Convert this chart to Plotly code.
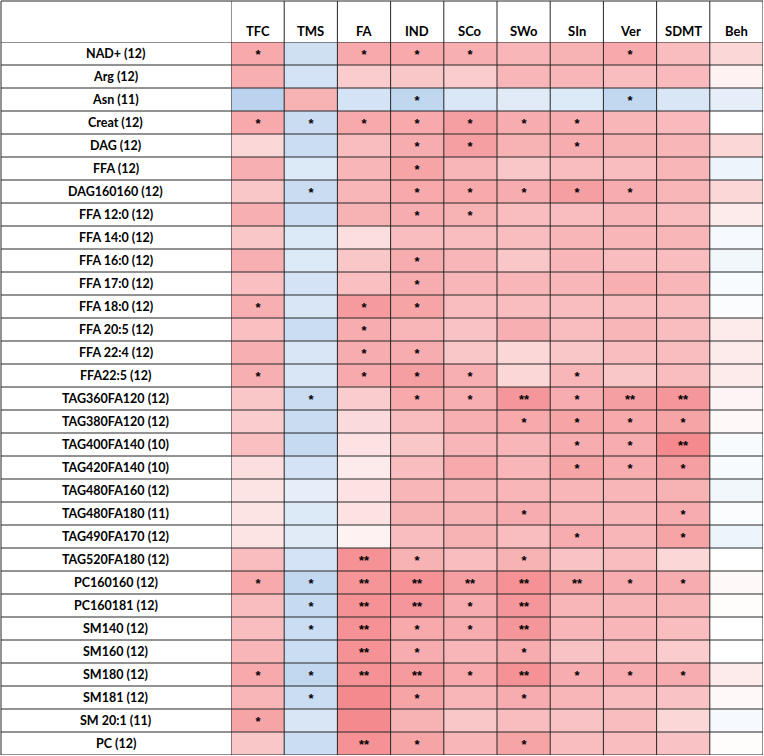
import plotly.graph_objects as go

# columns and rows of the table
columns = ["TFC", "TMS", "FA", "IND", "SCo", "SWo", "SIn", "Ver", "SDMT", "Beh"]
rows = ["NAD+ (12)", "Arg (12)", "Asn (11)", "Creat (12)", "DAG (12)", "FFA (12)",
        "DAG160160 (12)", "FFA 12:0 (12)", "FFA 14:0 (12)", "FFA 16:0 (12)",
        "FFA 17:0 (12)", "FFA 18:0 (12)", "FFA 20:5 (12)", "FFA 22:4 (12)",
        "FFA22:5 (12)", "TAG360FA120 (12)", "TAG380FA120 (12)", "TAG400FA140 (10)",
        "TAG420FA140 (10)", "TAG480FA160 (12)", "TAG480FA180 (11)", "TAG490FA170 (12)",
        "TAG520FA180 (12)", "PC160160 (12)", "PC160181 (12)", "SM140 (12)",
        "SM160 (12)", "SM180 (12)", "SM181 (12)", "SM 20:1 (11)", "PC (12)"]

# estimated correlation strengths (red positive, blue negative)
values = [
    [0.65, -0.55, 0.65, 0.65, 0.60, 0.55, 0.58, 0.65, 0.50, 0.30],
    [0.60, -0.50, 0.38, 0.42, 0.38, 0.55, 0.55, 0.50, 0.52, 0.10],
    [-0.78, 0.58, -0.50, -0.72, -0.42, -0.35, -0.40, -0.70, -0.45, -0.30],
    [0.65, -0.62, 0.65, 0.65, 0.72, 0.62, 0.62, 0.55, 0.52, 0.00],
    [0.30, -0.60, 0.50, 0.62, 0.72, 0.58, 0.62, 0.58, 0.55, 0.30],
    [0.60, -0.40, 0.55, 0.68, 0.55, 0.42, 0.50, 0.50, 0.55, -0.20],
    [0.42, -0.62, 0.55, 0.65, 0.65, 0.62, 0.72, 0.62, 0.55, 0.30],
    [0.60, -0.60, 0.58, 0.62, 0.58, 0.50, 0.50, 0.55, 0.50, 0.15],
    [0.42, -0.40, 0.25, 0.50, 0.50, 0.50, 0.55, 0.55, 0.55, -0.10],
    [0.60, -0.40, 0.42, 0.62, 0.55, 0.42, 0.55, 0.50, 0.50, -0.15],
    [0.48, -0.50, 0.48, 0.62, 0.55, 0.55, 0.55, 0.60, 0.55, -0.08],
    [0.60, -0.45, 0.75, 0.68, 0.50, 0.50, 0.50, 0.50, 0.50, -0.05],
    [0.48, -0.60, 0.62, 0.55, 0.45, 0.60, 0.50, 0.55, 0.50, 0.15],
    [0.60, -0.45, 0.62, 0.62, 0.42, 0.30, 0.42, 0.50, 0.50, 0.15],
    [0.60, -0.45, 0.65, 0.72, 0.60, 0.30, 0.55, 0.42, 0.50, 0.15],
    [0.42, -0.62, 0.38, 0.65, 0.60, 0.78, 0.62, 0.72, 0.78, 0.08],
    [0.38, -0.62, 0.28, 0.50, 0.60, 0.65, 0.68, 0.65, 0.68, 0.05],
    [0.48, -0.65, 0.22, 0.42, 0.55, 0.55, 0.62, 0.62, 0.88, -0.08],
    [0.25, -0.50, 0.15, 0.50, 0.65, 0.55, 0.68, 0.62, 0.72, -0.08],
    [0.20, -0.30, 0.22, 0.55, 0.55, 0.55, 0.55, 0.55, 0.58, -0.15],
    [0.20, -0.40, 0.22, 0.58, 0.58, 0.62, 0.55, 0.55, 0.62, -0.05],
    [0.20, -0.35, 0.10, 0.50, 0.58, 0.50, 0.62, 0.55, 0.68, -0.20],
    [0.50, -0.50, 0.82, 0.58, 0.50, 0.58, 0.45, 0.50, 0.30, 0.00],
    [0.65, -0.70, 0.80, 0.82, 0.72, 0.82, 0.68, 0.62, 0.62, 0.05],
    [0.50, -0.65, 0.82, 0.78, 0.62, 0.78, 0.55, 0.55, 0.55, 0.02],
    [0.50, -0.60, 0.82, 0.65, 0.62, 0.78, 0.55, 0.55, 0.50, 0.00],
    [0.55, -0.60, 0.82, 0.62, 0.55, 0.62, 0.45, 0.50, 0.38, 0.00],
    [0.65, -0.70, 0.82, 0.75, 0.65, 0.82, 0.62, 0.62, 0.62, 0.15],
    [0.55, -0.60, 0.88, 0.68, 0.55, 0.62, 0.55, 0.50, 0.45, 0.05],
    [0.68, -0.45, 0.88, 0.58, 0.42, 0.50, 0.45, 0.50, 0.30, -0.10],
    [0.42, -0.60, 0.82, 0.68, 0.55, 0.68, 0.50, 0.50, 0.45, 0.02],
]

# significance marks
stars = [
    ["*", "", "*", "*", "*", "", "", "*", "", ""],
    ["", "", "", "", "", "", "", "", "", ""],
    ["", "", "", "*", "", "", "", "*", "", ""],
    ["*", "*", "*", "*", "*", "*", "*", "", "", ""],
    ["", "", "", "*", "*", "", "*", "", "", ""],
    ["", "", "", "*", "", "", "", "", "", ""],
    ["", "*", "", "*", "*", "*", "*", "*", "", ""],
    ["", "", "", "*", "*", "", "", "", "", ""],
    ["", "", "", "", "", "", "", "", "", ""],
    ["", "", "", "*", "", "", "", "", "", ""],
    ["", "", "", "*", "", "", "", "", "", ""],
    ["*", "", "*", "*", "", "", "", "", "", ""],
    ["", "", "*", "", "", "", "", "", "", ""],
    ["", "", "*", "*", "", "", "", "", "", ""],
    ["*", "", "*", "*", "*", "", "*", "", "", ""],
    ["", "*", "", "*", "*", "**", "*", "**", "**", ""],
    ["", "", "", "", "", "*", "*", "*", "*", ""],
    ["", "", "", "", "", "", "*", "*", "**", ""],
    ["", "", "", "", "", "", "*", "*", "*", ""],
    ["", "", "", "", "", "", "", "", "", ""],
    ["", "", "", "", "", "*", "", "", "*", ""],
    ["", "", "", "", "", "", "*", "", "*", ""],
    ["", "", "**", "*", "", "*", "", "", "", ""],
    ["*", "*", "**", "**", "**", "**", "**", "*", "*", ""],
    ["", "*", "**", "**", "*", "**", "", "", "", ""],
    ["", "*", "**", "*", "*", "**", "", "", "", ""],
    ["", "", "**", "*", "", "*", "", "", "", ""],
    ["*", "*", "**", "**", "*", "**", "*", "*", "*", ""],
    ["", "*", "", "*", "", "*", "", "", "", ""],
    ["*", "", "", "", "", "", "", "", "", ""],
    ["", "", "**", "*", "", "*", "", "", "", ""],
]

W, H = 764, 756
label_w = 231
header_h = 42
font = "Lato, Roboto, Arial"
line = "#262626"

fig = go.Figure(go.Heatmap(
    z=values, x=list(range(len(columns))), y=list(range(len(rows))),
    text=stars, texttemplate="%{text}",
    textfont=dict(size=13, color="black", family="Liberation Sans, Arial", weight="bold"),
    colorscale=[[0, "#A8C7EA"], [0.5, "#FFFFFF"], [1, "#F27A7E"]],
    zmin=-1, zmax=1, showscale=False, hoverinfo="skip",
))

fig.update_xaxes(domain=[label_w / W, 1 - 1 / W], range=[-0.5, len(columns) - 0.5],
                 visible=False, fixedrange=True)
fig.update_yaxes(domain=[1 / H, 1 - header_h / H], range=[len(rows) - 0.5, -0.5],
                 visible=False, fixedrange=True)

shapes = []
# horizontal grid lines
for i in range(len(rows) + 1):
    shapes.append(dict(type="line", xref="paper", yref="y", x0=1 / W, x1=1 - 1 / W,
                       y0=i - 0.5, y1=i - 0.5, line=dict(color=line, width=1)))
shapes.append(dict(type="line", xref="paper", yref="paper", x0=1 / W, x1=1 - 1 / W,
                   y0=1 - 1 / H, y1=1 - 1 / H, line=dict(color=line, width=1)))
# vertical grid lines
for j in range(len(columns) + 1):
    shapes.append(dict(type="line", xref="x", yref="paper", x0=j - 0.5, x1=j - 0.5,
                       y0=1 / H, y1=1 - 1 / H, line=dict(color=line, width=1)))
shapes.append(dict(type="line", xref="paper", yref="paper", x0=1 / W, x1=1 / W,
                   y0=1 / H, y1=1 - 1 / H, line=dict(color=line, width=1)))

annotations = []
for j, c in enumerate(columns):
    annotations.append(dict(x=j, y=1 - 31 / H, xref="x", yref="paper", text=c,
                            showarrow=False, yanchor="middle",
                            font=dict(size=13, color="black", family=font, weight="bold")))
for i, r in enumerate(rows):
    annotations.append(dict(x=(label_w / 2) / W, y=i, xref="paper", yref="y", text=r,
                            showarrow=False, xanchor="center",
                            font=dict(size=12.5, color="black", family=font, weight="bold")))

fig.update_layout(width=W, height=H, margin=dict(l=0, r=0, t=0, b=0),
                  paper_bgcolor="white", plot_bgcolor="white",
                  shapes=shapes, annotations=annotations)

fig.write_html("out.html", config={"displayModeBar": False},
               post_script="document.body.style.margin='0';"
                           "document.body.style.overflow='hidden';")
